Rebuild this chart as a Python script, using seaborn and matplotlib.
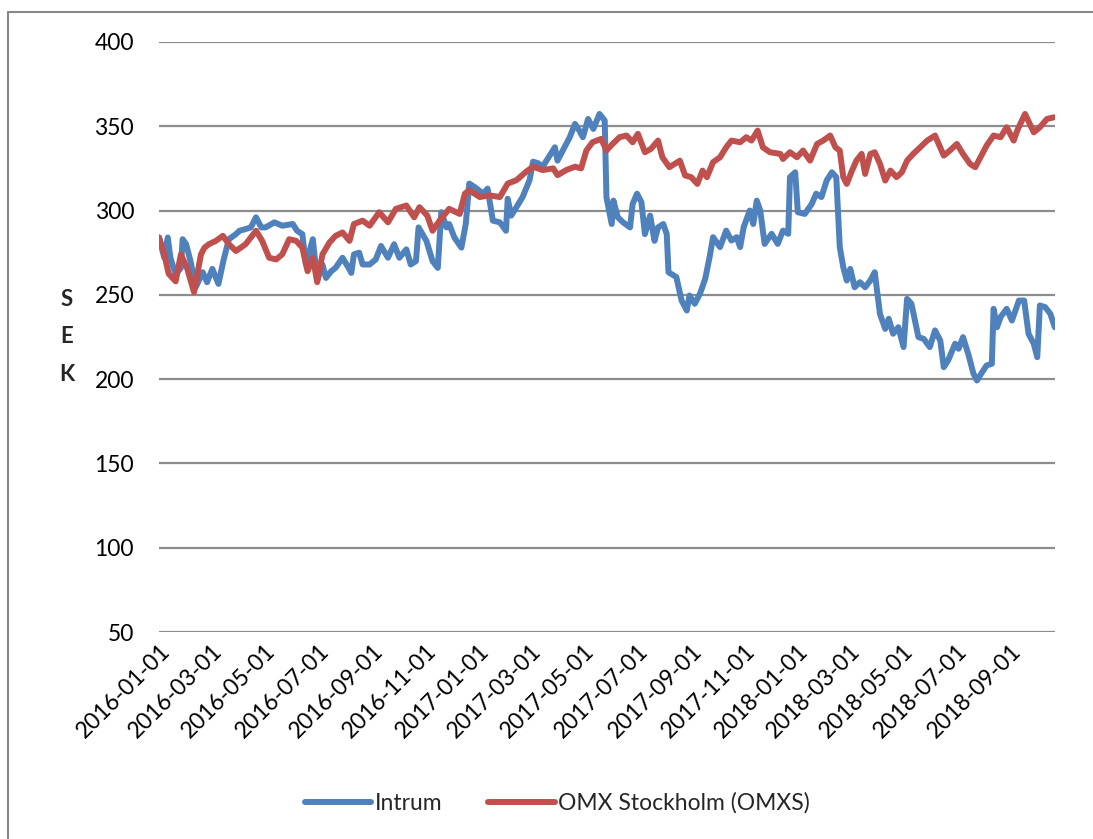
import pandas as pd
import matplotlib
matplotlib.use('Agg')
import matplotlib.pyplot as plt
import matplotlib.dates as mdates
from matplotlib.lines import Line2D
import seaborn as sns

# Intrum share price (SEK); dates as days after 2016-01-01
intrum_days = [0, 6, 10, 13, 19, 25, 27, 31, 36, 42, 50, 55, 61, 68, 74, 80, 88, 92, 99, 105,
               111, 117, 122, 132, 141, 153, 158, 164, 168, 176, 181, 187, 191, 197, 202, 210,
               218, 220, 223, 229, 233, 241, 248, 254, 262, 269, 275, 283, 288, 294, 297, 306,
               313, 319, 323, 329, 332, 338, 346, 351, 355, 361, 371, 376, 382, 390, 397, 399,
               403, 409, 416, 424, 428, 434, 439, 447, 453, 456, 464, 470, 476, 481, 485, 491,
               497, 504, 510, 512, 518, 520, 525, 531, 539, 542, 547, 552, 556, 562, 567, 571,
               577, 581, 583, 592, 598, 604, 607, 613, 619, 625, 630, 634, 642, 649, 655, 661,
               665, 669, 676, 680, 684, 688, 693, 701, 708, 714, 720, 722, 728, 731, 739, 747,
               752, 758, 764, 770, 775, 779, 783, 787, 791, 796, 802, 808, 814, 819, 825, 831,
               835, 840, 846, 852, 856, 861, 869, 875, 882, 888, 894, 898, 903, 911, 915, 920,
               926, 932, 936, 942, 947, 953, 955, 959, 963, 970, 976, 984, 990, 995, 1001, 1005,
               1008, 1014, 1020, 1025]
intrum_sek = [284, 272, 284, 272, 262, 266, 283, 280, 270, 254.5, 263.4, 257.5, 265.4, 256.5, 271,
              283, 286, 288, 289, 290, 296, 290, 290, 293, 291, 292, 288, 286, 268, 283, 258.5,
              268, 260, 264, 266, 272, 265, 263, 274, 275, 268, 268, 271, 279, 272, 280, 272,
              277, 268, 270, 290, 282, 270, 266, 299, 290, 292, 284, 278, 292, 316, 314, 310,
              313, 294, 293, 288, 307, 297, 302, 308, 318, 329, 328, 326, 332.6, 337.5, 329.6,
              337.5, 343.5, 351.4, 347.4, 343.5, 354.3, 348.4, 357.3, 353.4, 307.9, 292, 305.9,
              296, 293, 290, 304, 310, 305, 286, 297, 282, 290, 292, 286, 263.4, 260.5, 246.6,
              240.7, 249.6, 244.7, 250.6, 259.5, 272.3, 284.2, 278.3, 288.1, 282.2, 284.2, 278.3,
              290.1, 300, 292, 305.9, 300, 280.2, 286.2, 280.2, 288.1, 286.2, 319.8, 322.7, 299,
              298, 304, 310, 308, 317.8, 322.7, 319.8, 278.3, 266.4, 258.5, 265.4, 254.5, 257.5,
              254.5, 258.5, 263.4, 238.7, 229.8, 235.8, 226.9, 230.8, 219, 247.6, 244.7, 224.9,
              223.9, 219, 228.9, 222.9, 207.1, 211.1, 221, 218, 224.9, 215, 203.2, 199.2, 204.2,
              208.1, 209.1, 241.7, 230.8, 236.8, 241.7, 234.8, 246.6, 246.6, 226.9, 221, 213,
              243.7, 242.7, 238.7, 230.8]

# OMX Stockholm index, rebased to SEK scale
omx_days = [0, 6, 11, 19, 25, 32, 40, 48, 52, 57, 65, 73, 80, 88, 99, 111, 118, 126, 134, 141,
            149, 157, 164, 170, 176, 181, 187, 195, 202, 210, 218, 223, 233, 241, 252, 262, 271,
            283, 292, 298, 307, 313, 321, 332, 344, 350, 355, 367, 378, 390, 399, 409, 420, 428,
            439, 451, 456, 466, 476, 483, 489, 496, 506, 512, 519, 527, 535, 542, 548, 556, 563,
            571, 576, 584, 596, 602, 609, 616, 622, 627, 634, 642, 649, 655, 665, 672, 678, 685,
            691, 699, 711, 714, 722, 730, 737, 745, 753, 760, 768, 774, 779, 783, 787, 793, 798,
            804, 808, 814, 819, 825, 831, 837, 844, 850, 856, 863, 871, 879, 888, 898, 905, 913,
            920, 928, 934, 940, 947, 955, 963, 970, 978, 982, 991, 1001, 1008, 1016, 1024]
omx_sek = [284, 274, 262.5, 258, 274, 266, 251.6, 274, 278, 280, 282, 285, 280, 276, 280, 288,
           282, 272, 271, 274, 283, 282, 278, 264, 272, 257.5, 274, 281, 285, 287, 282, 292, 294,
           291, 299, 293, 301, 303, 296, 302, 297, 288, 294, 301, 298, 310, 312, 308, 309, 308,
           316, 318, 323, 326, 324, 325, 321, 324, 326, 325, 335.6, 340.5, 342.5, 335.6, 339.5,
           343.5, 344.5, 340.5, 345.5, 334.6, 336.6, 341.5, 331.6, 325.7, 329.6, 320.8, 319.8,
           315.8, 323.7, 319.8, 328.7, 331.6, 337.5, 341.5, 340.5, 343.5, 341.5, 347.4, 337.5,
           334.6, 333.6, 330.6, 334.6, 331.6, 335.6, 329.6, 339.5, 341.5, 344.5, 337.5, 335.6,
           319.8, 315.8, 323.7, 329.6, 333.6, 321.7, 333.6, 334.6, 327.7, 317.8, 323.7, 319.8,
           322.7, 329.6, 333.6, 337.5, 341.5, 344.5, 332.6, 335.6, 339.5, 333.6, 327.7, 325.7,
           331.6, 338.5, 344.5, 343.5, 349.4, 341.5, 347.4, 357.3, 346.4, 349.4, 354.3, 355.3]

series_names = ['Intrum', 'OMX Stockholm (OMXS)']
colors = ['#4F81BD', '#C0504D']
start = pd.Timestamp('2016-01-01')

df = pd.concat([
    pd.DataFrame({'date': start + pd.to_timedelta(intrum_days, unit='D'),
                  'SEK': intrum_sek, 'series': series_names[0]}),
    pd.DataFrame({'date': start + pd.to_timedelta(omx_days, unit='D'),
                  'SEK': omx_sek, 'series': series_names[1]}),
], ignore_index=True)

sns.set_style('white')
plt.rcParams['font.family'] = ['Lato', 'DejaVu Sans']

fig = plt.figure(figsize=(10.93, 8.39), dpi=100)
ax = fig.add_axes([0.1455, 0.2467, 0.8195, 0.7033])

sns.lineplot(data=df, x='date', y='SEK', hue='series', palette=colors,
             linewidth=4.3, ax=ax, legend=False, zorder=3)

ax.set_ylim(50, 400)
ax.set_yticks(range(50, 401, 50))
ax.set_xlim(start, start + pd.Timedelta(days=1025))
ax.xaxis.set_major_locator(mdates.MonthLocator(bymonth=[1, 3, 5, 7, 9, 11]))
ax.xaxis.set_major_formatter(mdates.DateFormatter('%Y-%m-%d'))
ax.grid(axis='y', color='#8c8c8c', linewidth=1.6)
ax.grid(axis='x', visible=False)
for s in ax.spines.values():
    s.set_visible(False)
ax.tick_params(axis='both', length=0, labelsize=16.5, labelcolor='black')
ax.tick_params(axis='y', pad=18)
ax.tick_params(axis='x', pad=6)
for lbl in ax.get_xticklabels():
    lbl.set_rotation(45)
    lbl.set_ha('right')
    lbl.set_rotation_mode('anchor')

ax.set_xlabel('')
ax.set_ylabel('S\nE\nK', rotation=0, fontsize=16, fontweight='bold',
              linespacing=1.95, labelpad=20, va='center')

handles = [Line2D([0], [0], color=c, linewidth=4.3, solid_capstyle='round') for c in colors]
fig.legend(handles, series_names, loc='center', bbox_to_anchor=(0.51, 0.043), ncol=2,
           frameon=False, fontsize=16.5, handlelength=2.9, handletextpad=0.15,
           columnspacing=2.0)

# outer chart frame (top and left edges visible)
fig.add_artist(Line2D([8 / 1093, 8 / 1093], [0, 1 - 12 / 839], transform=fig.transFigure,
                      color='#888888', linewidth=1.5))
fig.add_artist(Line2D([8 / 1093, 1], [1 - 12 / 839, 1 - 12 / 839], transform=fig.transFigure,
                      color='#888888', linewidth=1.5))

fig.savefig('out.png', dpi=100)
